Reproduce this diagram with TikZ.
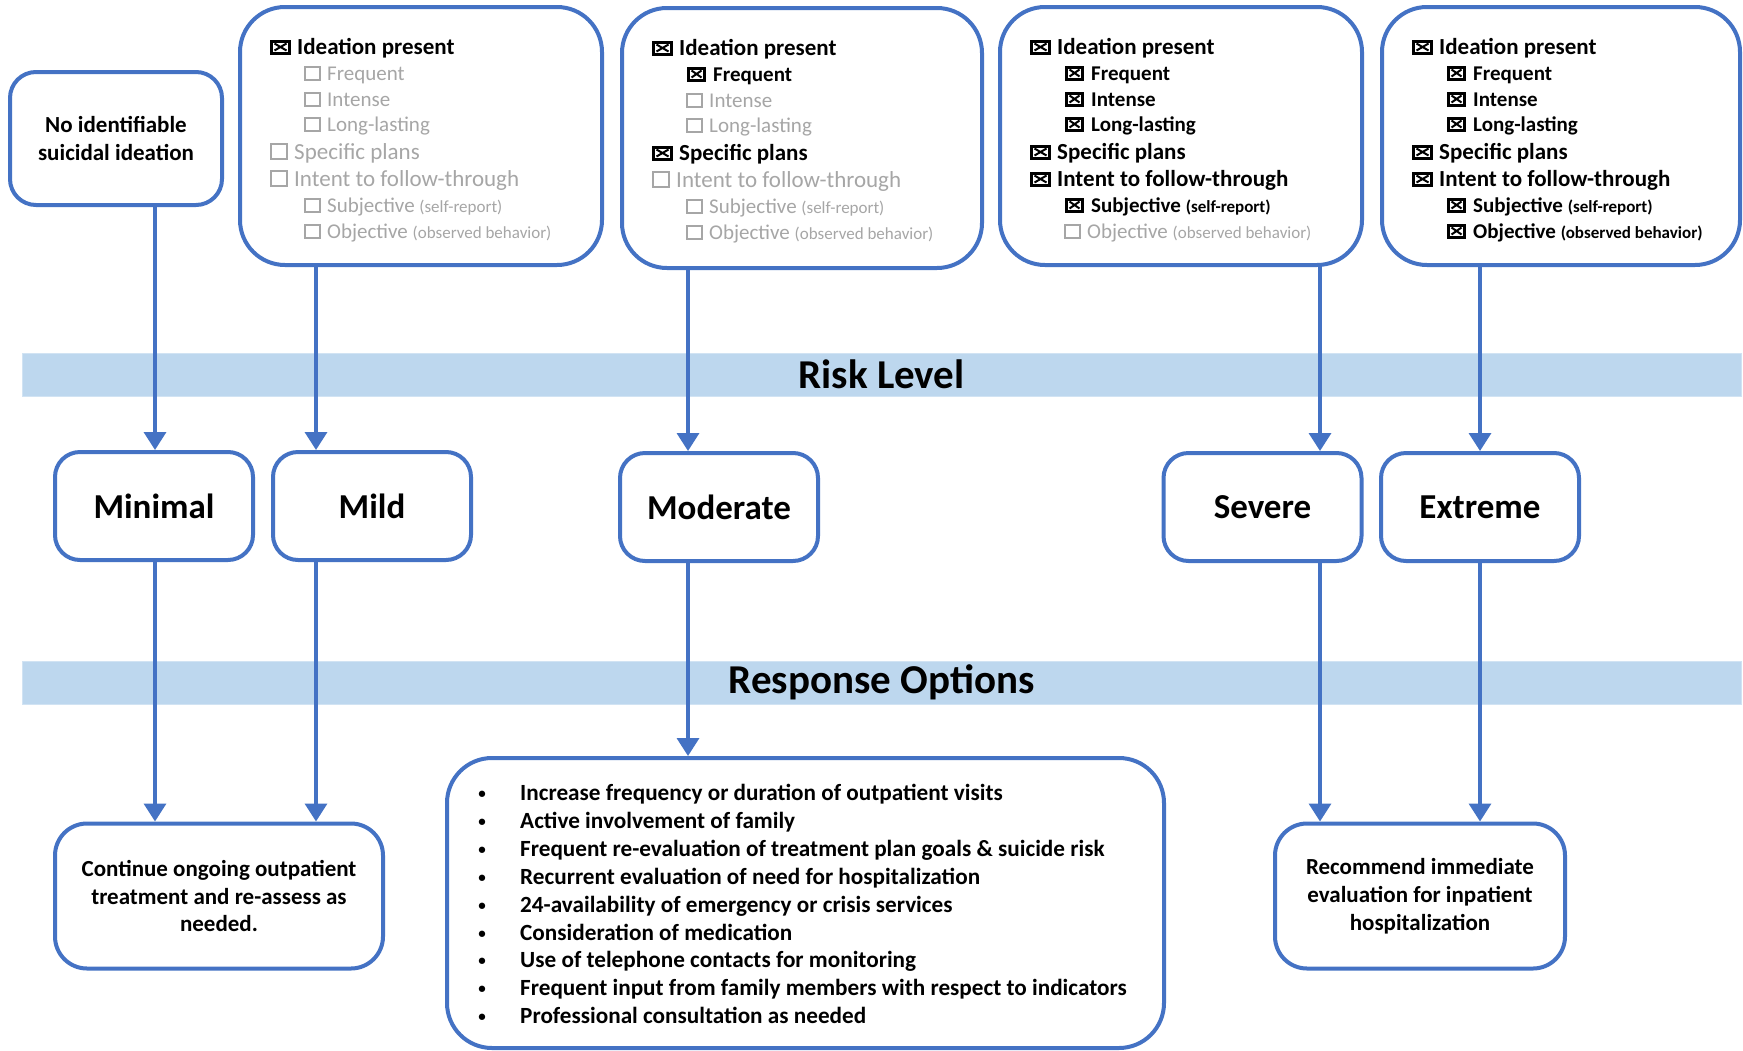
\documentclass[tikz,border=0pt]{standalone}
\usepackage{fontspec}
\setmainfont{Carlito}
\usetikzlibrary{arrows.meta}
\definecolor{myblue}{HTML}{4472C4}
\definecolor{bandc}{HTML}{BDD7EE}
\definecolor{grayc}{HTML}{A6A6A6}
\newcommand\fsz[2]{\fontsize{#1}{#2}\selectfont}
% checked box: #1 x, #2 baseline, #3 width
\newcommand\ckY[3]{%
  \fill[black] (#1,#2+0.5) rectangle ++(#3,-14.5);
  \fill[white] (#1+3,#2-2.5) rectangle ++(#3-6,-8.5);
  \draw[black,line width=2pt] (#1+4.5,#2-3.5) -- (#1+#3-4.5,#2-10.5) (#1+4.5,#2-10.5) -- (#1+#3-4.5,#2-3.5);
}
% unchecked box: #1 x, #2 baseline, #3 width, #4 height
\newcommand\ckN[4]{\draw[grayc,line width=1.6pt] (#1,#2) rectangle ++(#3,-#4);}
% lines: #1 name, #2 box left, #3 baseline, #4 text
\newcommand\mainY[4]{\ckY{#2+30}{#3}{21}\node[mtY] (#1) at (#2+57,#3) {#4};}
\newcommand\mainN[4]{\ckN{#2+31}{#3}{16}{15}\node[mtN] (#1) at (#2+54,#3) {#4};}
\newcommand\subY[4]{\ckY{#2+65}{#3}{19}\node[stY] (#1) at (#2+91,#3) {#4};}
\newcommand\subN[4]{\ckN{#2+65}{#3}{15}{13}\node[stN] (#1) at (#2+87,#3) {#4};}
\newcommand\paren[1]{{\fsz{17}{20}#1}}
\begin{document}
\begin{tikzpicture}[x=1pt,y=-1pt,
  bx/.style={draw=myblue,line width=4pt,fill=white,align=center,inner sep=0pt},
  crit/.style={bx,rounded corners=45pt,minimum width=#1,minimum height=258pt},
  lvl/.style={bx,rounded corners=25pt,minimum width=198pt,minimum height=108pt,font=\fsz{35}{40}\bfseries},
  resp/.style={bx,rounded corners=32pt,font=\fsz{23}{27.8}\bfseries},
  band/.style={fill=bandc,draw=bandc!70!white,line width=0.8pt,minimum width=1719pt,minimum height=43pt,inner sep=0pt,font=\fsz{41}{46}\bfseries},
  arr/.style={draw=myblue,line width=3.5pt,-{Triangle[width=22pt,length=18pt]}},
  mtY/.style={anchor=base west,inner sep=0pt,text=black,font=\fsz{23}{26}\bfseries},
  mtN/.style={anchor=base west,inner sep=0pt,text=grayc,font=\fsz{23}{26}},
  stY/.style={anchor=base west,inner sep=0pt,text=black,font=\fsz{21}{24}\bfseries},
  stN/.style={anchor=base west,inner sep=0pt,text=grayc,font=\fsz{21}{24}},
]
\useasboundingbox (0,0) rectangle (1743,1050);
\fill[white] (0,0) rectangle (1743,1050);

% bands
\node[band] (risk) at (881.5,374.5) {Risk Level};
\node[band] (respo) at (881.5,682.5) {Response Options};

% top boxes
\node[bx,rounded corners=26pt,minimum width=212pt,minimum height=133pt,font=\fsz{23}{28}\bfseries] (noid) at (116,138.5) {No identifiable\\suicidal ideation};
\node[crit=362pt] (crit1) at (421,136) {};
\node[crit=360pt,minimum height=260pt] (crit2) at (802,138) {};
\node[crit=362pt] (crit3) at (1181,136) {};
\node[crit=358pt] (crit4) at (1561,136) {};

% checklist 1
\mainY{a1}{240}{54}{Ideation present}
\subN{a2}{240}{80}{Frequent}
\subN{a3}{240}{106}{Intense}
\subN{a4}{240}{131}{Long-lasting}
\mainN{a5}{240}{159}{Specific plans}
\mainN{a6}{240}{186}{Intent to follow-through}
\subN{a7}{240}{212}{Subjective \paren{(self-report)}}
\subN{a8}{240}{238}{Objective \paren{(observed behavior)}}

% checklist 2
\mainY{b1}{622}{55}{Ideation present}
\subY{b2}{622}{81}{Frequent}
\subN{b3}{622}{107}{Intense}
\subN{b4}{622}{132}{Long-lasting}
\mainY{b5}{622}{160}{Specific plans}
\mainN{b6}{622}{187}{Intent to follow-through}
\subN{b7}{622}{213}{Subjective \paren{(self-report)}}
\subN{b8}{622}{239}{Objective \paren{(observed behavior)}}

% checklist 3
\mainY{d1}{1000}{54}{Ideation present}
\subY{d2}{1000}{80}{Frequent}
\subY{d3}{1000}{106}{Intense}
\subY{d4}{1000}{131}{Long-lasting}
\mainY{d5}{1000}{159}{Specific plans}
\mainY{d6}{1000}{186}{Intent to follow-through}
\subY{d7}{1000}{212}{Subjective \paren{(self-report)}}
\subN{d8}{1000}{238}{Objective \paren{(observed behavior)}}

% checklist 4
\mainY{e1}{1382}{54}{Ideation present}
\subY{e2}{1382}{80}{Frequent}
\subY{e3}{1382}{106}{Intense}
\subY{e4}{1382}{131}{Long-lasting}
\mainY{e5}{1382}{159}{Specific plans}
\mainY{e6}{1382}{186}{Intent to follow-through}
\subY{e7}{1382}{212}{Subjective \paren{(self-report)}}
\subY{e8}{1382}{238}{Objective \paren{(observed behavior)}}

% level boxes
\node[lvl] (minimal) at (154,506) {Minimal};
\node[lvl] (mild) at (372,506) {Mild};
\node[lvl] (moderate) at (719,507) {Moderate};
\node[lvl] (severe) at (1262.5,507) {Severe};
\node[lvl] (extreme) at (1480,507) {Extreme};

% response boxes
\node[resp,minimum width=328pt,minimum height=145pt] (cont) at (219,896) {Continue ongoing outpatient\\treatment and re-assess as\\needed.};
\node[resp,minimum width=290pt,minimum height=145pt] (recom) at (1420,896) {Recommend immediate\\evaluation for inpatient\\hospitalization};
\node[bx,rounded corners=45pt,minimum width=717pt,minimum height=290pt] (opts) at (805.5,903) {};

\foreach \t [count=\i] in {
  Increase frequency or duration of outpatient visits,
  Active involvement of family,
  {Frequent re-evaluation of treatment plan goals \& suicide risk},
  Recurrent evaluation of need for hospitalization,
  24-availability of emergency or crisis services,
  Consideration of medication,
  Use of telephone contacts for monitoring,
  Frequent input from family members with respect to indicators,
  Professional consultation as needed}
{
  \node[anchor=base west,inner sep=0pt,font=\fsz{23.2}{27}\bfseries] (opt\i) at (520,{800.5+27.9*(\i-1)}) {\t};
  \node[anchor=base,inner sep=0pt,font=\fsz{15}{18}\bfseries] (bul\i) at (482,{798.5+27.9*(\i-1)}) {\textbullet};
}

% connectors
\coordinate (xA) at (155,0);
\coordinate (xB) at (316,0);
\coordinate (xC) at (688,0);
\coordinate (xD) at (1320,0);
\coordinate (xE) at (1480,0);
\draw[arr] (noid.south -| xA) -- (minimal.north -| xA);
\draw[arr] (crit1.south -| xB) -- (mild.north -| xB);
\draw[arr] (crit2.south -| xC) -- (moderate.north -| xC);
\draw[arr] (crit3.south -| xD) -- (severe.north -| xD);
\draw[arr] (crit4.south -| xE) -- (extreme.north -| xE);
\draw[arr] (minimal.south -| xA) -- (cont.north -| xA);
\draw[arr] (mild.south -| xB) -- (cont.north -| xB);
\draw[arr] (moderate.south -| xC) -- (opts.north -| xC);
\draw[arr] (severe.south -| xD) -- (recom.north -| xD);
\draw[arr] (extreme.south -| xE) -- (recom.north -| xE);
\end{tikzpicture}
\end{document}
